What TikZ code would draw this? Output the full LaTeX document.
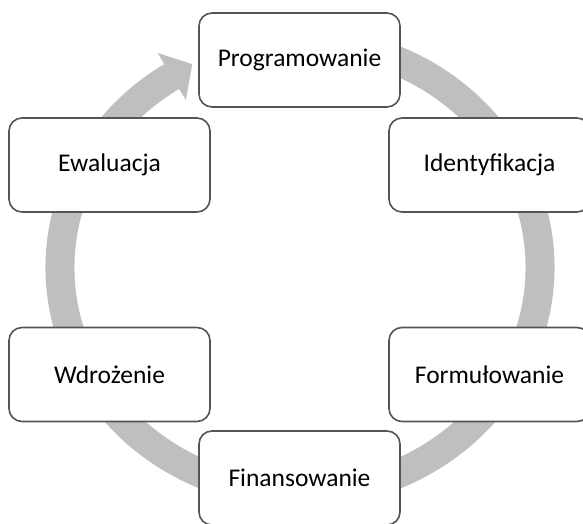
\documentclass[tikz,border=0pt]{standalone}
\usepackage{fontspec}
\setmainfont{Carlito}
\definecolor{ringgray}{RGB}{191,191,191}
\definecolor{boxline}{RGB}{85,85,85}
\tikzset{
  stage/.style={draw=boxline, line width=1.6pt, fill=white, rounded corners=13pt,
    minimum width=201pt, minimum height=94pt, inner sep=0pt,
    font=\fontsize{25.5}{30}\selectfont, text=black},
  ring/.style={draw=ringgray, line width=29pt, line cap=butt}
}
\begin{document}
\begin{tikzpicture}[x=1pt,y=1pt]
\useasboundingbox (0,0) rectangle (583,523);
\coordinate (C) at (300,255.5);
% circular arrow
\draw[ring] (C) ++(75:240pt and 226pt) arc[start angle=75, end angle=-237.7, x radius=240pt, y radius=226pt];
\fill[ringgray] (157.6,470.1) -- (192.3,458.8) -- (185.8,422.9) -- cycle;
% stages
\node[stage] (prog) at (299.5,463) {Programowanie};
\node[stage] (iden) at (489.5,358) {Identyfikacja};
\node[stage] (form) at (489.5,148.5) {Formułowanie};
\node[stage] (fin)  at (299.5,45) {Finansowanie};
\node[stage] (wdr)  at (109.5,148.5) {Wdrożenie};
\node[stage] (ewal) at (109.5,358) {Ewaluacja};
\end{tikzpicture}
\end{document}
